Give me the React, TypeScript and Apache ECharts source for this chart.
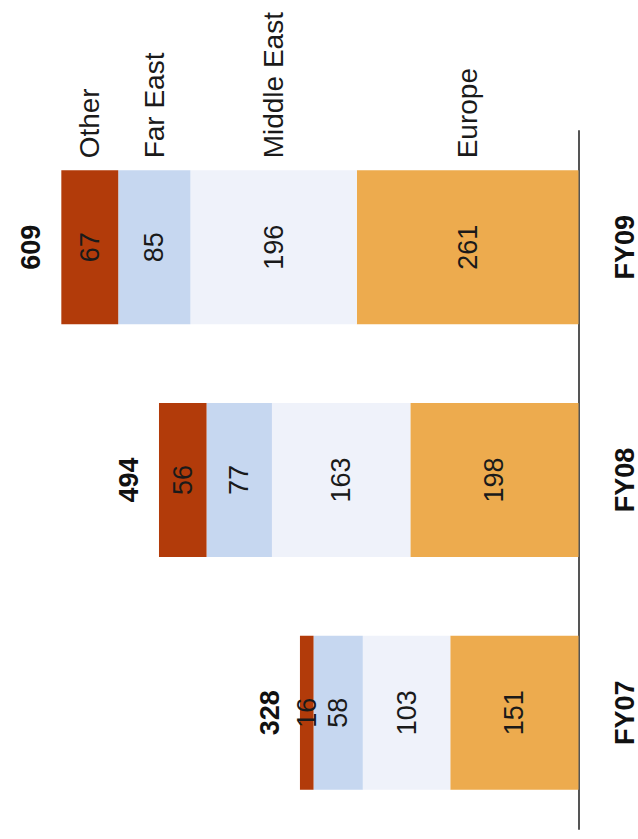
import React, { useEffect, useRef } from "react";
import * as echarts from "echarts";

const categories = ["FY07", "FY08", "FY09"];
const europe = [151, 198, 261];
const middleEast = [103, 163, 196];
const farEast = [58, 77, 85];
const other = [16, 56, 67];
const totals = [328, 494, 609];

const FONT = "'Liberation Sans', Arial, Helvetica, sans-serif";
const BAR_WIDTH = 154;

export default function App() {
  const ref = useRef<HTMLDivElement>(null);

  useEffect(() => {
    if (!ref.current) return;
    const chart = echarts.init(ref.current, null, { renderer: "svg" });

    const segs = [
      { name: "Europe", data: europe, color: "#EDAB4E" },
      { name: "Middle East", data: middleEast, color: "#EFF2FA" },
      { name: "Far East", data: farEast, color: "#C6D7F0" },
      { name: "Other", data: other, color: "#B23B0A" },
    ];

    const valueLabel = {
      show: true,
      position: "inside",
      rotate: 90,
      fontSize: 27,
      color: "#1a1a1a",
      fontFamily: FONT,
      align: "center",
      verticalAlign: "middle",
    };

    const option: any = {
      animation: false,
      backgroundColor: "#ffffff",
      grid: { left: 35, right: 59, top: 131, bottom: 10 },
      xAxis: { type: "value", inverse: true, min: 0, max: 640, show: false },
      yAxis: {
        type: "category",
        data: categories,
        position: "right",
        axisLine: { show: true, lineStyle: { color: "#555555", width: 2 } },
        axisTick: { show: false },
        splitLine: { show: false },
        axisLabel: {
          rotate: 90,
          margin: 46,
          fontSize: 27,
          fontWeight: "bold",
          color: "#111111",
          fontFamily: FONT,
          align: "center",
          verticalAlign: "middle",
        },
      },
      series: [
        ...segs.map((s) => ({
          type: "bar",
          name: s.name,
          stack: "total",
          barWidth: BAR_WIDTH,
          data: s.data,
          itemStyle: { color: s.color },
          label: valueLabel,
        })),
        {
          type: "bar",
          name: "Total",
          stack: "total",
          barWidth: BAR_WIDTH,
          data: totals.map(() => 0),
          itemStyle: { color: "transparent" },
          label: {
            show: true,
            position: "left",
            distance: 30,
            rotate: 90,
            align: "center",
            verticalAlign: "middle",
            fontSize: 27,
            fontWeight: "bold",
            color: "#111111",
            fontFamily: FONT,
            formatter: (p: any) => String(totals[p.dataIndex]),
          },
        },
      ],
    };

    chart.setOption(option);

    const idx = categories.length - 1;
    let cum = 0;
    const graphics = segs.map((s) => {
      const start = cum;
      cum += s.data[idx];
      const pt = chart.convertToPixel({ gridIndex: 0 }, [
        (start + cum) / 2,
        categories[idx],
      ]) as number[];
      return {
        type: "text",
        x: pt[0],
        y: pt[1] - BAR_WIDTH / 2 - 12,
        rotation: Math.PI / 2,
        style: {
          text: s.name,
          fontSize: 28,
          fontFamily: FONT,
          fill: "#1a1a1a",
          align: "left",
          verticalAlign: "middle",
        },
      };
    });
    chart.setOption({ graphic: graphics });

    return () => chart.dispose();
  }, []);

  return (
    <div
      ref={ref}
      style={{ position: "fixed", left: 0, top: 0, width: 638, height: 839 }}
    />
  );
}
